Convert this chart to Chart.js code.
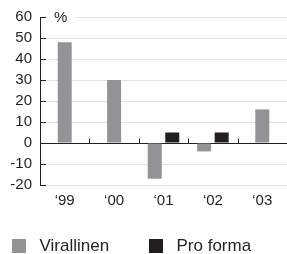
<!DOCTYPE html>
<html>
<head>
<meta charset="utf-8">
<script src="https://cdn.jsdelivr.net/npm/chart.js@4/dist/chart.umd.min.js"></script>
<style>
  html, body { margin: 0; padding: 0; background: #fff; }
  canvas { display: block; }
</style>
</head>
<body>
<canvas id="chart" width="287" height="254"></canvas>
<script>
const years = ['\u201899', '\u201800', '\u201801', '\u201802', '\u201803']
const virallinen = [48, 30, -17, -4, 16]
const proForma = [null, null, 5, 5, null]
const seriesNames = ['Virallinen', 'Pro forma']
const yUnit = '%'

const ink = '#231f20'
const greyBar = '#939395'
const gridGrey = '#e2e2e2'
const fontFamily = 'Liberation Sans, Arial, Helvetica, sans-serif'

Chart.defaults.font.family = fontFamily
Chart.defaults.color = ink

// small ticks, % label and legend drawn on top
const extras = {
    id: 'extras',
    afterDatasetsDraw(chart) {
        const ctx = chart.ctx
        const x = chart.scales.x
        const y = chart.scales.y
        const area = chart.chartArea
        ctx.save()
        ctx.strokeStyle = ink
        ctx.lineWidth = 1

        // y ticks pointing into the plot
        y.ticks.forEach(t => {
            const py = Math.round(y.getPixelForValue(t.value)) + 0.5
            ctx.beginPath()
            ctx.moveTo(area.left, py)
            ctx.lineTo(area.left + 6, py)
            ctx.stroke()
        })

        // category separators on the zero line
        const y0 = Math.round(y.getPixelForValue(0)) + 0.5
        for (let i = 0; i < years.length - 1; i++) {
            const px = Math.round((x.getPixelForValue(i) + x.getPixelForValue(i + 1)) / 2) + 0.5
            ctx.beginPath()
            ctx.moveTo(px, y0)
            ctx.lineTo(px, y0 - 5)
            ctx.stroke()
        }

        // unit label over the top grid line
        const top = y.getPixelForValue(y.max)
        ctx.fillStyle = '#fff'
        ctx.fillRect(area.left + 7, top - 3, 29, 6)
        ctx.fillStyle = ink
        ctx.font = '15px ' + fontFamily
        ctx.textAlign = 'left'
        ctx.textBaseline = 'middle'
        ctx.fillText(yUnit, area.left + 14, top + 1)

        // legend row
        const legendX = [12, 149]
        const legendY = 239
        ctx.font = '17px ' + fontFamily
        chart.data.datasets.forEach((ds, i) => {
            ctx.fillStyle = ds.backgroundColor
            ctx.fillRect(legendX[i], legendY, 14, 14)
            ctx.fillStyle = ink
            ctx.fillText(ds.label, legendX[i] + 27.5, legendY + 7.5)
        })
        ctx.restore()
    }
}

new Chart(document.getElementById('chart'), {
    type: 'bar',
    data: {
        labels: years,
        datasets: [{
            label: seriesNames[0],
            data: virallinen,
            backgroundColor: greyBar
        }, {
            label: seriesNames[1],
            data: proForma,
            backgroundColor: ink
        }]
    },
    options: {
        responsive: false,
        animation: false,
        layout: {
            padding: { top: 17, right: 0, bottom: 44, left: 0 }
        },
        datasets: {
            bar: {
                skipNull: true,
                categoryPercentage: 0.71,
                barPercentage: 0.8,
                maxBarThickness: 14
            }
        },
        plugins: {
            legend: { display: false },
            tooltip: { enabled: false }
        },
        scales: {
            x: {
                grid: { display: false, drawTicks: false },
                border: { display: false },
                ticks: { padding: 7, font: { size: 15 }, color: ink },
                afterFit(scale) { scale.height = 25 }
            },
            y: {
                min: -20,
                max: 60,
                ticks: { stepSize: 10, padding: 8, font: { size: 15 }, color: ink },
                grid: {
                    drawTicks: false,
                    color: c => c.tick && c.tick.value === 0 ? ink : gridGrey
                },
                border: { display: true, color: ink, width: 1 },
                afterFit(scale) { scale.width = 40 }
            }
        }
    },
    plugins: [extras]
})
</script>
</body>
</html>
